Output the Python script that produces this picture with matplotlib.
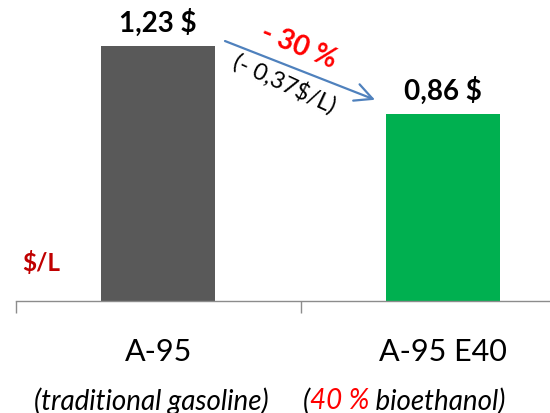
import matplotlib

matplotlib.use("Agg")

import matplotlib.pyplot as plt

plt.rcParams["font.family"] = ["Lato", "DejaVu Sans"]

# data
categories = ["A-95", "A-95 E40"]
subtitles = ["(traditional gasoline)", "(40 % bioethanol)"]
price_labels = ["1,23 $", "0,86 $"]
bar_heights = [1.23, 0.90]
bar_colors = ["#595959", "#00b050"]
change_pct = "- 30 %"
change_abs = "(- 0,37$/L)"
unit = "$/L"

GREY = "#8c8c8c"

fig = plt.figure(figsize=(5.5, 4.14), dpi=100)
ax = fig.add_axes([15.7 / 550, 111.7 / 414, 570 / 550, 302.3 / 414])

x = list(range(len(categories)))
ax.bar(x, bar_heights, width=0.4, color=bar_colors, zorder=2)
ax.set_xlim(-0.5, 1.5)
ax.set_ylim(0, 1.455)

for sp in ("top", "right", "left"):
    ax.spines[sp].set_visible(False)
ax.spines["bottom"].set_color(GREY)
ax.spines["bottom"].set_linewidth(1.0)
ax.set_yticks([])
ax.set_xticks([-0.5, 0.5, 1.5])
ax.set_xticklabels([])
ax.tick_params(axis="x", direction="out", length=8.6, width=1.0, color=GREY)

# value labels on top of the bars
for i, (h, lab) in enumerate(zip(bar_heights, price_labels)):
    ax.annotate(lab, (i, h), xytext=(0, 11), textcoords="offset points",
                ha="center", va="baseline", fontsize=20, fontweight="bold", color="black")

# category names
for i, name in enumerate(categories):
    ax.text(i, -0.238, name, ha="center", va="center", fontsize=22, color="black")

# subtitles
ax.text(-0.025, -0.475, subtitles[0], ha="center", va="center", fontsize=20,
        style="italic", color="black")
t1 = ax.text(0.508, -0.475, "(", ha="left", va="center", fontsize=20,
             style="italic", color="black")
t2 = ax.annotate("40 %", xy=(1, 0), xycoords=t1, ha="left", va="bottom",
                 fontsize=20, style="italic", color="#ff0000")
ax.annotate(" bioethanol)", xy=(1, 0), xycoords=t2, ha="left", va="bottom",
            fontsize=20, style="italic", color="black")

# unit label
ax.text(-0.5 + (22.7 - 15.7) / 285, (302.3 - 263) / 207.8, unit, ha="left", va="center",
        fontsize=17.5, fontweight="bold", color="#c00000")

# change arrow and text
ax.annotate("", xy=(0.7607, 0.970), xytext=(0.2344, 1.2527),
            arrowprops=dict(arrowstyle="->,head_length=0.9,head_width=0.45",
                            color="#4f81bd", lw=1.6, shrinkA=0, shrinkB=0,
                            mutation_scale=14))
ax.text(0.494, 1.231, change_pct, rotation=-22, rotation_mode="anchor",
        ha="center", va="center", fontsize=20, fontweight="bold", color="#ff0000")
ax.text(0.443, 1.055, change_abs, rotation=-25, rotation_mode="anchor",
        ha="center", va="center", fontsize=17, color="black")

fig.savefig("out.png", dpi=100, facecolor="white")
